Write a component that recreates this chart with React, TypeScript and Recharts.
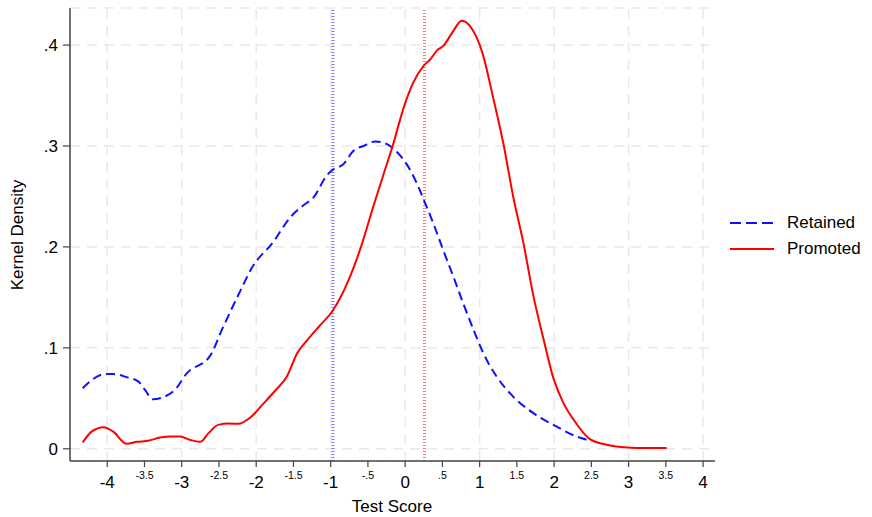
import { CartesianGrid, Line, LineChart, ReferenceLine, XAxis, YAxis } from "recharts"

const retainedX = [
  -4.33, -4.03, -3.91, -3.74, -3.58, -3.49, -3.39, -3.11, -2.93, -2.62, -2.46, -2.21, -2.06,
  -1.77, -1.54, -1.37, -1.23, -1.05, -0.98, -0.83, -0.69, -0.56, -0.4, -0.25, -0.11, 0.02,
  0.16, 0.27, 0.38, 0.51, 0.65, 0.78, 0.92, 1.05, 1.23, 1.45, 1.72, 1.99, 2.3, 2.48,
]
const retainedY = [
  0.06, 0.074, 0.074, 0.071, 0.0665, 0.058, 0.049, 0.057, 0.075, 0.092, 0.118, 0.157, 0.179,
  0.205, 0.2295, 0.241, 0.249, 0.271, 0.276, 0.282, 0.2955, 0.3, 0.3045, 0.302, 0.294, 0.282,
  0.2625, 0.243, 0.223, 0.197, 0.17, 0.144, 0.1176, 0.0946, 0.0714, 0.0517, 0.0353, 0.0237,
  0.0122, 0.008,
]

const promotedX = [
  -4.33, -4.21, -4.05, -3.92, -3.74, -3.6, -3.45, -3.29, -3.15, -3.02, -2.89, -2.75, -2.64,
  -2.51, -2.37, -2.24, -2.08, -1.9, -1.74, -1.59, -1.45, -1.3, -1.14, -0.98, -0.76, -0.58,
  -0.43, -0.29, -0.16, -0.02, 0.11, 0.25, 0.34, 0.43, 0.51, 0.63, 0.76, 0.9, 1.03, 1.19, 1.32,
  1.45, 1.59, 1.72, 1.86, 1.99, 2.12, 2.26, 2.48, 2.71, 2.98, 3.24, 3.51,
]
const promotedY = [
  0.0062, 0.017, 0.0214, 0.017, 0.0049, 0.0069, 0.0079, 0.0112, 0.0122, 0.0122, 0.0089, 0.0069,
  0.0155, 0.0237, 0.025, 0.0247, 0.031, 0.045, 0.058, 0.0714, 0.0946, 0.109, 0.1225, 0.136,
  0.167, 0.203, 0.2395, 0.272, 0.302, 0.338, 0.363, 0.3795, 0.386, 0.395, 0.399, 0.412, 0.424,
  0.4157, 0.394, 0.345, 0.302, 0.25, 0.203, 0.152, 0.108, 0.07, 0.046, 0.029, 0.0096,
  0.004, 0.0013, 0.0007, 0.0007,
]

// mean test score of each group (dotted lines)
const retainedMean = -0.97
const promotedMean = 0.26

const xTicks = [-4, -3.5, -3, -2.5, -2, -1.5, -1, -0.5, 0, 0.5, 1, 1.5, 2, 2.5, 3, 3.5, 4]
const xGrid = [-4, -3, -2, -1, 0, 1, 2, 3, 4]
const yTicks = [0, 0.1, 0.2, 0.3, 0.4]

const retainedData = retainedX.map((x, i) => ({ x, y: retainedY[i] }))
const promotedData = promotedX.map((x, i) => ({ x, y: promotedY[i] }))

const FONT = "'Liberation Sans', Arial, Helvetica, sans-serif"
const GRID = "#e9e9e9"
const AXIS = "#444"

const fmt = (v: number) => {
  if (v === 0) return "0"
  const s = String(v)
  return s.replace(/^(-?)0\./, "$1.")
}

function XTick({ x, y, payload }: { x?: number; y?: number; payload?: { value: number } }) {
  const v = payload?.value ?? 0
  const major = Number.isInteger(v)
  return (
    <text
      x={x}
      y={(y ?? 0) + (major ? 19 : 9.5)}
      textAnchor="middle"
      fontSize={major ? 17 : 10.5}
      fontFamily={FONT}
      fill="#000"
    >
      {fmt(v)}
    </text>
  )
}

function YTick({ x, y, payload }: { x?: number; y?: number; payload?: { value: number } }) {
  const v = payload?.value ?? 0
  return (
    <text x={(x ?? 0) - 2} y={(y ?? 0) + 6} textAnchor="end" fontSize={17} fontFamily={FONT} fill="#000">
      {fmt(v)}
    </text>
  )
}

function YLabel() {
  return (
    <text
      transform="translate(23,235) rotate(-90)"
      textAnchor="middle"
      fontSize={17}
      fontFamily={FONT}
      fill="#000"
    >
      Kernel Density
    </text>
  )
}

function XLabel() {
  return (
    <text x={392} y={512} textAnchor="middle" fontSize={17} fontFamily={FONT} fill="#000">
      Test Score
    </text>
  )
}

export default function App() {
  return (
    <div style={{ position: "absolute", left: 0, top: 0, width: 872, height: 517, background: "#fff" }}>
      <LineChart
        width={872}
        height={517}
        margin={{ top: 8, right: 157, left: 0, bottom: 0 }}
        style={{ fontFamily: FONT }}
      >
        <CartesianGrid
          vertical={false}
          stroke={GRID}
          strokeWidth={1.5}
          strokeDasharray="10 7"
        />
        {xGrid.map((g) => (
          <ReferenceLine
            key={g}
            x={g}
            stroke={GRID}
            strokeWidth={1.5}
            strokeDasharray="10 7"
            ifOverflow="visible"
          />
        ))}
        <XAxis
          type="number"
          dataKey="x"
          domain={[-4.5, 4.16]}
          ticks={xTicks}
          allowDataOverflow
          height={56}
          tickSize={6}
          tickMargin={2}
          tick={<XTick />}
          axisLine={{ stroke: AXIS, strokeWidth: 1.5 }}
          tickLine={{ stroke: AXIS, strokeWidth: 1.2 }}
          interval={0}
          label={<XLabel />}
        />
        <YAxis
          type="number"
          domain={[-0.0121, 0.4367]}
          ticks={yTicks}
          allowDataOverflow
          width={70}
          tickSize={7}
          tickMargin={3}
          tick={<YTick />}
          axisLine={{ stroke: AXIS, strokeWidth: 1.5 }}
          tickLine={{ stroke: AXIS, strokeWidth: 1.2 }}
          interval={0}
          label={<YLabel />}
        />
        <ReferenceLine
          x={retainedMean}
          stroke="#7777ff"
          strokeWidth={3}
          strokeDasharray="1 2"
        />
        <ReferenceLine
          x={promotedMean}
          stroke="#ff7777"
          strokeWidth={3}
          strokeDasharray="1 2"
        />
        <Line
          data={retainedData}
          dataKey="y"
          name="Retained"
          type="monotone"
          stroke="#1010ff"
          strokeWidth={2}
          strokeDasharray="9 5"
          dot={false}
          isAnimationActive={false}
        />
        <Line
          data={promotedData}
          dataKey="y"
          name="Promoted"
          type="monotone"
          stroke="#ff0000"
          strokeWidth={2}
          dot={false}
          isAnimationActive={false}
        />
      </LineChart>
      <div style={{ position: "absolute", left: 728, top: 210, fontFamily: FONT, fontSize: 17, color: "#000" }}>
        <div style={{ display: "flex", alignItems: "center", height: 26 }}>
          <svg width={48} height={4} style={{ marginRight: 11 }}>
            <line x1={2} y1={2} x2={46} y2={2} stroke="#1010ff" strokeWidth={2} strokeDasharray="11 5" />
          </svg>
          Retained
        </div>
        <div style={{ display: "flex", alignItems: "center", height: 26 }}>
          <svg width={48} height={4} style={{ marginRight: 11 }}>
            <line x1={2} y1={2} x2={46} y2={2} stroke="#ff0000" strokeWidth={2} />
          </svg>
          Promoted
        </div>
      </div>
    </div>
  )
}
